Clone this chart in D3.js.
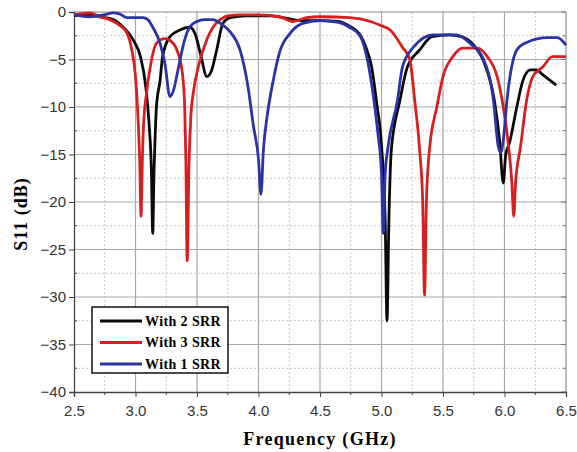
<!DOCTYPE html>
<html>
<head>
<meta charset="utf-8">
<script src="https://cdn.jsdelivr.net/npm/d3@7"></script>
<style>
  body { margin: 0; background: #fff; }
  .tick text { font-family: "Liberation Sans", Arial, sans-serif; font-size: 15px; fill: #333; }
</style>
</head>
<body>
<div id="chart"></div>
<script>
// S11 curves, [frequency GHz, dB]
const srr2 = [[2.5,-0.4],[2.6,-0.3],[2.71,-0.5],[2.82,-0.8],[2.9,-1.6],[2.98,-2.9],[3.04,-4.7],[3.08,-7.5],[3.11,-11.7],[3.13,-17],[3.14,-23.3],[3.15,-17],[3.16,-13],[3.17,-10],[3.2,-7.2],[3.22,-4.7],[3.28,-2.6],[3.36,-1.9],[3.44,-1.6],[3.49,-2.5],[3.53,-4.5],[3.58,-6.8],[3.62,-6.1],[3.66,-4],[3.71,-1.2],[3.77,-0.6],[3.9,-0.4],[4.1,-0.4],[4.2,-0.6],[4.35,-0.9],[4.5,-0.9],[4.65,-1.0],[4.74,-1.5],[4.82,-2.3],[4.87,-3.6],[4.92,-5.8],[4.96,-9.5],[5.0,-14],[5.03,-22],[5.045,-32.5],[5.06,-22],[5.08,-14.5],[5.15,-9.3],[5.21,-5.8],[5.31,-4],[5.41,-2.6],[5.55,-2.4],[5.65,-2.6],[5.75,-3.5],[5.84,-5.5],[5.92,-9.5],[5.96,-13.5],[5.99,-18],[6.01,-15],[6.04,-13.8],[6.1,-10],[6.15,-7.2],[6.21,-6.1],[6.26,-6.1],[6.31,-6.6],[6.42,-7.7]];
const srr3 = [[2.5,-0.3],[2.63,-0.1],[2.71,-0.5],[2.79,-0.8],[2.87,-1.4],[2.93,-2.2],[2.97,-4],[3.0,-6.8],[3.02,-11],[3.035,-16],[3.045,-21.5],[3.055,-16],[3.065,-12],[3.09,-8.5],[3.12,-5.8],[3.17,-3.3],[3.24,-2.8],[3.3,-3.2],[3.35,-4.5],[3.38,-6.3],[3.4,-10],[3.41,-16],[3.42,-26.2],[3.435,-16],[3.45,-11],[3.47,-8.5],[3.51,-5.8],[3.58,-2.9],[3.63,-1.6],[3.69,-0.8],[3.75,-0.4],[3.85,-0.3],[4.0,-0.3],[4.17,-0.5],[4.28,-1.0],[4.39,-0.6],[4.5,-0.5],[4.74,-0.6],[4.91,-1.0],[4.99,-1.4],[5.07,-1.9],[5.17,-3.7],[5.23,-5],[5.27,-9.3],[5.31,-14.5],[5.335,-20],[5.35,-29.8],[5.365,-20],[5.39,-14.5],[5.45,-10],[5.5,-6.8],[5.58,-4.7],[5.66,-3.8],[5.78,-3.8],[5.86,-4.7],[5.94,-6.8],[5.99,-10],[6.03,-13.8],[6.06,-18],[6.075,-21.5],[6.09,-18],[6.13,-14.2],[6.18,-9.3],[6.23,-6.8],[6.31,-5.8],[6.39,-4.7],[6.5,-4.7]];
const srr1 = [[2.5,-0.3],[2.63,-0.5],[2.74,-0.3],[2.82,-0.1],[2.87,-0.2],[2.93,-0.6],[3.06,-0.6],[3.1,-0.8],[3.14,-1.6],[3.2,-3.3],[3.24,-5.5],[3.28,-8.9],[3.31,-8.2],[3.35,-5.8],[3.4,-2.9],[3.44,-1.6],[3.5,-1.0],[3.56,-0.8],[3.63,-0.8],[3.69,-1.2],[3.77,-2.1],[3.85,-4],[3.91,-7.5],[3.96,-12.1],[4.0,-15.5],[4.02,-19.2],[4.04,-14.5],[4.07,-11],[4.12,-7.2],[4.17,-4.3],[4.26,-2.2],[4.36,-1.2],[4.5,-0.9],[4.65,-1.1],[4.74,-1.6],[4.83,-2.6],[4.88,-4.7],[4.93,-8.5],[4.97,-12.7],[5.0,-17],[5.015,-23.3],[5.03,-17],[5.05,-14.5],[5.13,-9.3],[5.17,-5.8],[5.26,-3.7],[5.42,-2.4],[5.61,-2.4],[5.72,-3.3],[5.83,-5],[5.91,-9.3],[5.95,-14.2],[5.97,-14.8],[5.99,-13.5],[6.02,-9.3],[6.1,-4],[6.18,-3.2],[6.35,-2.7],[6.43,-2.7],[6.5,-3.5]];

const xTicks = [2.5, 3.0, 3.5, 4.0, 4.5, 5.0, 5.5, 6.0, 6.5];
const yTicks = [0, -5, -10, -15, -20, -25, -30, -35, -40];

const series = [
  { name: 'With 2 SRR', data: srr2, color: '#0a0a0a' },
  { name: 'With 3 SRR', data: srr3, color: '#d81f1f' },
  { name: 'With 1 SRR', data: srr1, color: '#2b34a6' }
];

const W = 577, H = 452;
const margin = { left: 74, right: 11, top: 12, bottom: 60 };
const width = W - margin.left - margin.right;
const height = H - margin.top - margin.bottom;

const svg = d3.select('#chart').append('svg')
  .attr('width', W).attr('height', H)
  .append('g')
  .attr('transform', `translate(${margin.left},${margin.top})`);

const xScale = d3.scaleLinear().domain([2.5, 6.5]).range([0, width]);
const yScale = d3.scaleLinear().domain([-40, 0]).range([height, 0]);

// minor grid (dashed)
const minorX = d3.range(2.75, 6.5, 0.5);
const minorY = d3.range(-2.5, -40, -5);
svg.append('g').selectAll('line').data(minorX).join('line')
  .attr('x1', d => xScale(d)).attr('x2', d => xScale(d))
  .attr('y1', 0).attr('y2', height)
  .attr('stroke', '#c4c4c4').attr('stroke-dasharray', '2,2');
svg.append('g').selectAll('line').data(minorY).join('line')
  .attr('y1', d => yScale(d)).attr('y2', d => yScale(d))
  .attr('x1', 0).attr('x2', width)
  .attr('stroke', '#c4c4c4').attr('stroke-dasharray', '2,2');

// major grid
svg.append('g').selectAll('line').data(xTicks.slice(1, -1)).join('line')
  .attr('x1', d => xScale(d)).attr('x2', d => xScale(d))
  .attr('y1', 0).attr('y2', height)
  .attr('stroke', '#a8a8a8').attr('stroke-width', 1.2);
svg.append('g').selectAll('line').data(yTicks.slice(1, -1)).join('line')
  .attr('y1', d => yScale(d)).attr('y2', d => yScale(d))
  .attr('x1', 0).attr('x2', width)
  .attr('stroke', '#a8a8a8').attr('stroke-width', 1.2);

// frame top/right
svg.append('line').attr('x1', 0).attr('x2', width).attr('y1', 0).attr('y2', 0)
  .attr('stroke', '#888');
svg.append('line').attr('x1', width).attr('x2', width).attr('y1', 0).attr('y2', height)
  .attr('stroke', '#777');
svg.append('g').selectAll('line').data(d3.range(0, -40.1, -2.5)).join('line')
  .attr('x1', width).attr('x2', d => width - (d % 5 === 0 ? 5 : 3))
  .attr('y1', d => yScale(d)).attr('y2', d => yScale(d))
  .attr('stroke', '#777');

// axes
const xAxis = d3.axisBottom(xScale).tickValues(xTicks).tickFormat(d3.format('.1f')).tickSize(5).tickPadding(6);
const yAxis = d3.axisLeft(yScale).tickValues(yTicks).tickFormat(d3.format('d')).tickSize(5).tickPadding(3);

const gx = svg.append('g').attr('transform', `translate(0,${height})`).call(xAxis);
const gy = svg.append('g').call(yAxis);
[gx, gy].forEach(g => {
  g.select('.domain').attr('stroke', '#444').attr('stroke-width', 1.3);
  g.selectAll('.tick line').attr('stroke', '#444');
});
gx.selectAll('.tick text').attr('dy', '0.85em');
// minor ticks
svg.append('g').selectAll('line').data(minorX).join('line')
  .attr('x1', d => xScale(d)).attr('x2', d => xScale(d))
  .attr('y1', height).attr('y2', height + 3).attr('stroke', '#444');
svg.append('g').selectAll('line').data(minorY).join('line')
  .attr('y1', d => yScale(d)).attr('y2', d => yScale(d))
  .attr('x1', 0).attr('x2', 3).attr('stroke', '#444');

// curves
const line = d3.line()
  .x(d => xScale(d[0]))
  .y(d => yScale(d[1]))
  .curve(d3.curveMonotoneX);

series.forEach(s => {
  svg.append('path')
    .datum(s.data)
    .attr('fill', 'none')
    .attr('stroke', s.color)
    .attr('stroke-width', 2.8)
    .attr('stroke-linejoin', 'round')
    .attr('d', line);
});

// legend
const lg = svg.append('g').attr('transform', `translate(${92 - margin.left},${307 - margin.top})`);
lg.append('rect').attr('width', 136).attr('height', 66)
  .attr('fill', '#fff').attr('stroke', '#111').attr('stroke-width', 1.5);
series.forEach((s, i) => {
  const y = 14 + i * 21.5;
  lg.append('line').attr('x1', 8).attr('x2', 50).attr('y1', y).attr('y2', y)
    .attr('stroke', s.color).attr('stroke-width', 3);
  lg.append('text').attr('x', 53).attr('y', y + 4.5)
    .style('font-family', '"Liberation Serif", "Times New Roman", serif')
    .style('font-weight', 'bold').style('font-size', '14px')
    .style('letter-spacing', '0.4px')
    .text(s.name);
});

// axis titles
svg.append('text')
  .attr('x', width / 2).attr('y', height + 53)
  .attr('text-anchor', 'middle')
  .style('font-family', '"Liberation Serif", "Times New Roman", serif')
  .style('font-weight', 'bold').style('font-size', '18px')
  .style('letter-spacing', '1.3px')
  .text('Frequency (GHz)');

svg.append('text')
  .attr('transform', `translate(${-47},${height / 2 + 12}) rotate(-90)`)
  .attr('text-anchor', 'middle')
  .style('font-family', '"Liberation Serif", "Times New Roman", serif')
  .style('font-weight', 'bold').style('font-size', '18px')
  .style('letter-spacing', '1px')
  .text('S11 (dB)');
</script>
</body>
</html>
